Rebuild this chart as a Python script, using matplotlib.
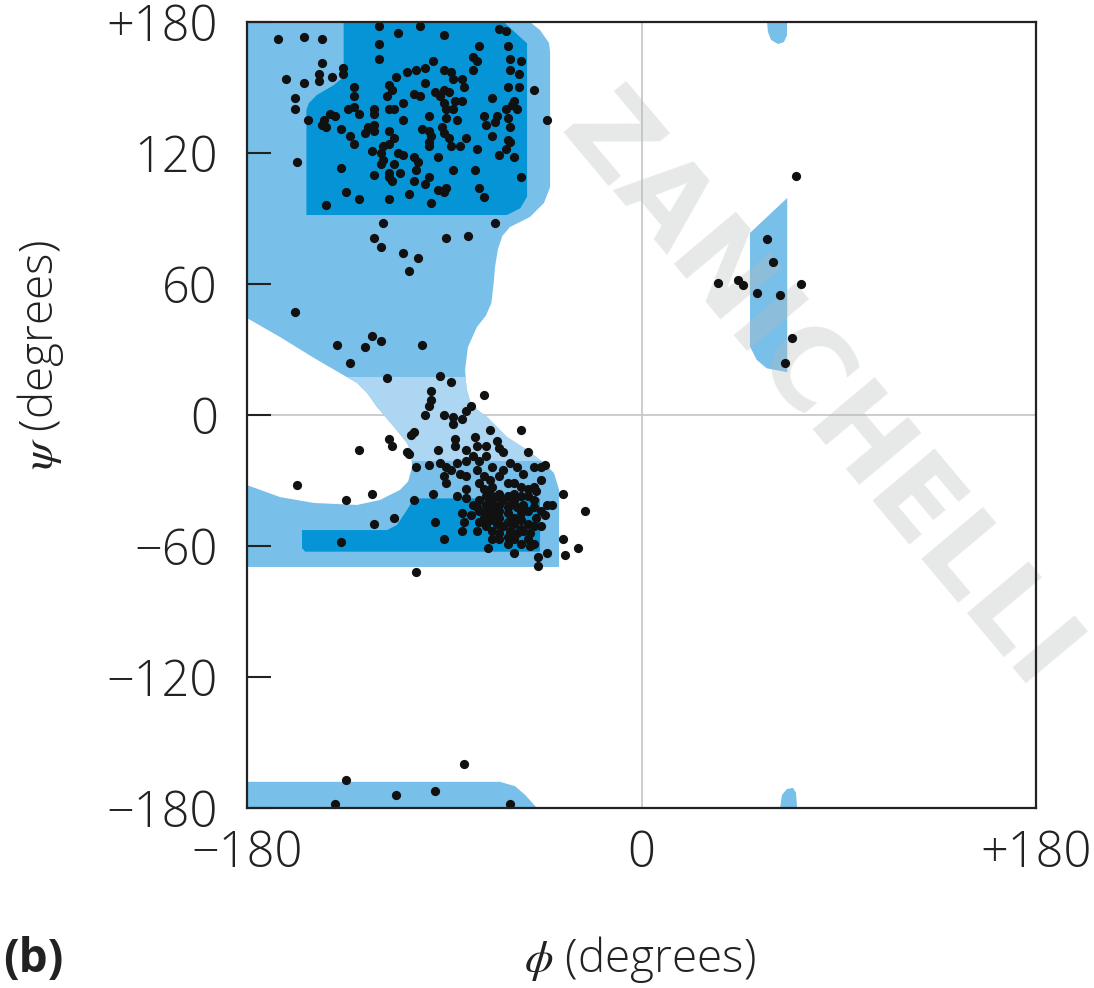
import matplotlib.pyplot as plt
from matplotlib.patches import Polygon, Rectangle

# allowed regions, (phi, psi) vertices
light_region = [(-180, 180), (-50.9, 180), (-46.3, 176.3), (-42.2, 170.4), (-41.7, 165.8),
                (-41.7, 116.8), (-41.7, 104.4), (-44.5, 97.1), (-50.9, 90.7), (-60, 86.1),
                (-63.5, 82), (-65.5, 76), (-66.8, 68), (-67.5, 60), (-68.5, 51.3), (-71, 45.5),
                (-75.1, 40.3), (-79.2, 31.1), (-80.5, 20.6), (-79.8, 12), (-78.2, 6.2),
                (-74.5, 2), (-70.5, -0.9), (-61.4, -10.1), (-52.2, -16), (-44.5, -22),
                (-39.9, -26.6), (-37.6, -34.3), (-37.6, -69.6),
                (-180, -69.6), (-180, -32.1), (-164.9, -37.6), (-149.4, -40.3), (-129.8, -41.2),
                (-119.3, -38.9), (-110.2, -34.3), (-106.5, -30.5), (-104.7, -24), (-105, -17.5),
                (-107, -12.8), (-112.9, -5.5), (-120.7, 3.7), (-125.2, 10.1), (-129.8, 14.7),
                (-137.6, 19.2), (-149.4, 26.1), (-164.9, 35.7), (-180, 44.4)]
dark_beta = [(-152.9, 91.6), (-152.9, 139.7), (-151.8, 142.8), (-148.1, 146.6), (-140.4, 151.1),
             (-136.7, 154.2), (-135.9, 159.5), (-135.9, 180), (-62.9, 180), (-52.2, 170.2),
             (-52.2, 100), (-55.3, 94.7), (-61.4, 91.6)]
dark_alpha = [(-154.9, -52.7), (-116.1, -52.7), (-111.6, -50.4), (-107, -43.5), (-104.7, -39.7),
              (-100.9, -38.2), (-46.3, -38.2), (-46.3, -62.6), (-153.5, -62.6), (-154.9, -60.9)]
left_helix = [(49.5, 83.4), (66.5, 99.4), (66.5, 19.6), (57.1, 21.4), (52.6, 25.2), (49.5, 31.3)]
bottom_strip = [(-180, -180), (-180, -168), (-64.6, -168), (-57.7, -170), (-53.1, -174), (-47.7, -180)]
top_blob = [(57.3, 180), (66.4, 180), (66.4, 174), (65, 170.8), (62.3, 169.9), (59.1, 171.8), (57.7, 175.4)]
bottom_blob = [(63.2, -180), (64.1, -174), (66.4, -171.3), (69.1, -170.8), (70.5, -173), (71, -180)]
bridge_psi = (-21, 17.4)

# observed residues (phi, psi)
beta_pts = [(-166, 172), (-154, 173), (-146, 172), (-120, 178), (-111, 175), (-101, 178), (-90, 174),
            (-65, 177), (-62, 176), (-74, 169), (-120, 170), (-61, 169), (-120, 163), (-95, 162),
            (-146, 161), (-136, 159), (-147, 156), (-136, 156), (-141, 155), (-162, 154), (-154, 152),
            (-147, 153), (-112, 155), (-107, 157), (-103, 158), (-99, 159), (-90, 158), (-87, 157),
            (-77, 164), (-75, 162), (-77, 158), (-60, 163), (-55, 162), (-60, 158), (-56, 156),
            (-61, 150), (-56, 150), (-49, 149), (-82, 154), (-86, 154), (-99, 152), (-115, 151),
            (-131, 150), (-114, 149), (-116, 146), (-104, 147), (-101, 146), (-94, 148), (-90, 149),
            (-88, 148), (-81, 150), (-158, 145), (-158, 140), (-131, 146), (-131, 141), (-134, 140),
            (-129, 138), (-122, 140), (-122, 138), (-115, 140), (-113, 140), (-109, 143), (-92, 146),
            (-90, 143), (-85, 144), (-82, 144), (-89, 140), (-86, 140), (-97, 137), (-89, 136),
            (-84, 135), (-68, 145), (-58, 144), (-59, 142), (-62, 140), (-57, 140), (-72, 137),
            (-66, 137), (-67, 134), (-61, 136), (-71, 133), (-60, 132), (-43, 135), (-152, 135),
            (-145, 135), (-146, 133), (-144, 132), (-142, 138), (-140, 137), (-137, 131), (-133, 128),
            (-131, 124), (-126, 129), (-125, 132), (-122, 133), (-122, 130), (-109, 135), (-100, 131),
            (-97, 130), (-96, 128), (-91, 132), (-90, 129), (-88, 127), (-87, 123), (-83, 123),
            (-80, 127), (-75, 122), (-68, 128), (-61, 126), (-60, 125), (-62, 122), (-65, 119),
            (-58, 118), (-115, 130), (-113, 127), (-115, 124), (-118, 123), (-119, 120), (-111, 120),
            (-109, 119), (-118, 117), (-119, 115), (-113, 115), (-104, 118), (-102, 116), (-97, 123),
            (-97, 125), (-93, 118), (-123, 121), (-157, 116), (-137, 113), (-122, 110), (-115, 111),
            (-110, 111), (-115, 109), (-114, 107), (-103, 112), (-104, 107), (-99, 106), (-97, 109),
            (-93, 103), (-89, 104), (-90, 102), (-86, 112), (-76, 112), (-74, 104), (-72, 100),
            (-55, 109), (-144, 96), (-135, 102), (-129, 99), (-115, 99), (-106, 101), (-96, 97),
            (-118, 88), (-122, 81), (-119, 77), (-109, 74), (-102, 72), (-89, 81), (-79, 82),
            (-67, 88), (-106, 66), (-158, 47)]
bridge_pts = [(-139, 32), (-126, 31), (-123, 36), (-119, 34), (-100, 32), (-133, 24), (-116, 17),
              (-92, 18), (-87, 15), (-72, 9), (-96, 11), (-96, 7), (-97, 4), (-99, 0), (-90, 0),
              (-86, -1), (-86, -4), (-82, -2), (-80, 2), (-78, 4), (-104, -8), (-105, -9), (-115, -11),
              (-114, -14), (-107, -17), (-106, -18), (-129, -16), (-157, -32), (-135, -39), (-123, -36),
              (-122, -50), (-113, -47), (-137, -58), (-103, -72), (-94, -49), (-90, -57), (-104, -39),
              (-95, -36), (-103, -24), (-97, -23), (-93, -16), (-85, -11), (-85, -14), (-80, -16),
              (-76, -10), (-75, -14), (-69, -7), (-55, -7), (-52, -17), (-71, -14), (-66, -12),
              (-65, -15), (-63, -17)]
alpha_pts = [(-92, -22), (-89, -24), (-87, -25), (-84, -22), (-83, -27), (-80, -21), (-80, -28),
             (-77, -19), (-74, -21), (-71, -19), (-68, -24), (-63, -25), (-60, -22), (-57, -24),
             (-54, -27), (-49, -24), (-46, -24), (-44, -23), (-46, -30), (-49, -33), (-48, -35),
             (-43, -41), (-41, -41), (-46, -44), (-44, -46), (-36, -36), (-26, -44), (-29, -61),
             (-36, -57), (-35, -64), (-47, -65), (-47, -69), (-43, -63), (-58, -63), (-70, -61),
             (-75, -53), (-82, -45), (-81, -49), (-82, -53), (-84, -37), (-80, -34), (-80, -38),
             (-90, -28), (-89, -31), (-74, -31), (-75, -25), (-72, -28), (-69, -30), (-68, -33),
             (-65, -28), (-61, -31), (-58, -31), (-55, -33), (-52, -34), (-52, -37), (-54, -41),
             (-57, -42), (-60, -41), (-63, -39), (-66, -37), (-69, -36), (-72, -34), (-74, -39),
             (-75, -42), (-71, -41), (-68, -42), (-65, -44), (-61, -45), (-58, -47), (-55, -48),
             (-52, -50), (-49, -51), (-51, -54), (-54, -53), (-57, -54), (-60, -53), (-63, -51),
             (-66, -50), (-69, -48), (-72, -47), (-74, -49), (-71, -51), (-68, -53), (-65, -54),
             (-61, -56), (-58, -57), (-55, -59), (-52, -57), (-49, -59), (-65, -57), (-68, -57),
             (-61, -59), (-51, -60), (-55, -45), (-52, -44), (-49, -42), (-48, -47), (-49, -39),
             (-46, -51), (-68, -46), (-65, -47), (-61, -49), (-58, -50), (-55, -52), (-74, -44),
             (-77, -41), (-78, -46), (-71, -44), (-65, -36), (-61, -37), (-58, -36), (-55, -37),
             (-58, -39), (-61, -42), (-65, -41), (-68, -39), (-71, -37)]
lefthand_pts = [(70.5, 109.6), (57.4, 80.5), (60.2, 70.2), (35.1, 60.6), (44.2, 61.8), (46.2, 59.6),
                (52.9, 56), (63.2, 54.8), (72.6, 60), (68.5, 35.4), (65.5, 23.7)]
bottom_pts = [(-135, -167), (-140, -178), (-112, -174), (-94, -172), (-81, -160), (-60, -178)]

ticks = [-180, -120, -60, 0, 60, 120, 180]
ytick_labels = ["\u2212180", "\u2212120", "\u221260", "0", "60", "120", "+180"]
xticks = [-180, 0, 180]
xtick_labels = ["\u2212180", "0", "+180"]

plt.rcParams['font.family'] = ['Open Sans', 'DejaVu Sans']
plt.rcParams['font.weight'] = 'light'
plt.rcParams['mathtext.fontset'] = 'stix'

c_light = "#78bfe9"
c_bridge = "#acd6f2"
c_dark = "#0595d6"

fig = plt.figure(figsize=(10.94, 9.88), dpi=100)
ax = fig.add_axes([247/1094, 1 - 808/988, 789/1094, 786/988])

ax.axhline(0, color="#c8c8c8", lw=1.3, zorder=0.5)
ax.axvline(0, color="#c8c8c8", lw=1.3, zorder=0.5)

light = Polygon(light_region, closed=True, fc=c_light, ec="none", zorder=1)
ax.add_patch(light)
band = Rectangle((-180, bridge_psi[0]), 180, bridge_psi[1] - bridge_psi[0], fc=c_bridge, ec="none", zorder=1.1)
ax.add_patch(band)
band.set_clip_path(light)
for reg in [left_helix, bottom_strip, top_blob, bottom_blob]:
    ax.add_patch(Polygon(reg, closed=True, fc=c_light, ec="none", zorder=1))
for reg in [dark_beta, dark_alpha]:
    ax.add_patch(Polygon(reg, closed=True, fc=c_dark, ec="none", zorder=1.2))

# watermark, partly off the right edge as in the scan
ax.text(80, 10, "ZANICHELLI", rotation=-50, rotation_mode="anchor", ha="center", va="center",
        fontsize=80, fontweight="bold", family="DejaVu Sans", color="#b8baba", alpha=0.33,
        zorder=2, clip_on=False)

for pts in [beta_pts, bridge_pts, alpha_pts, lefthand_pts, bottom_pts]:
    ax.scatter([p[0] for p in pts], [p[1] for p in pts], s=44, color="#111111",
               linewidths=0, zorder=3, clip_on=False)

ax.set_xlim(-180, 180)
ax.set_ylim(-180, 180)
ax.set_yticks(ticks)
ax.set_yticklabels(ytick_labels)
ax.set_xticks(xticks)
ax.set_xticklabels(xtick_labels)
ax.tick_params(axis="y", direction="in", length=17, width=1.5, color="#222222", pad=21, labelsize=35, labelcolor="#222222")
ax.tick_params(axis="x", length=0, pad=15, labelsize=35, labelcolor="#222222")
for s in ax.spines.values():
    s.set_linewidth(1.6)
    s.set_color("#222222")
    s.set_zorder(4)

fig.text(40/1094, 1 - 355/988, "$\\psi$ (degrees)", rotation=90, ha="center", va="center",
         fontsize=33, color="#222222")
fig.text(640/1094, 1 - 972/988, "$\\phi$ (degrees)", ha="center", va="baseline",
         fontsize=33, color="#222222")
fig.text(0.003, 1 - 972/988, "(b)", ha="left", va="baseline", fontsize=33,
         fontweight="bold", color="#222222")

fig.savefig("out.png", dpi=100)
